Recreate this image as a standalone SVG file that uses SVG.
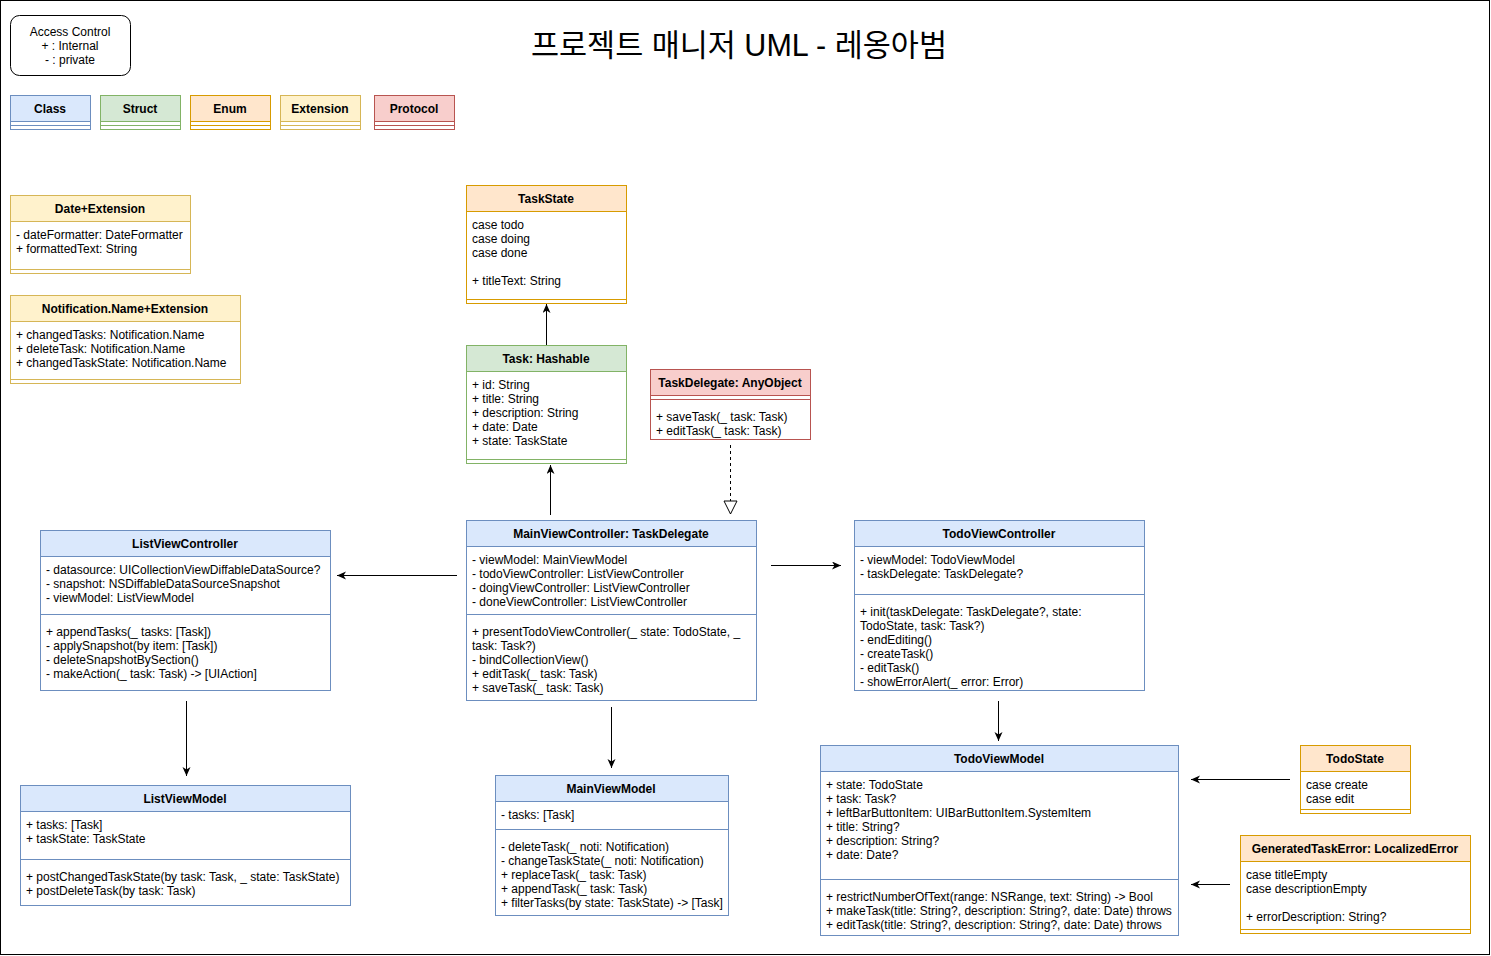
<svg xmlns="http://www.w3.org/2000/svg" width="1491" height="956" viewBox="0 0 1491 956">
<style>
text{font-family:"Liberation Sans",Arial,"Noto Sans CJK KR",sans-serif;font-size:12px;fill:#000}
.h{font-weight:bold;text-anchor:middle}
.c{text-anchor:middle}
.body{fill:#fff}
.blue rect,.blue line{stroke:#6c8ebf}.blue .hd{fill:#dae8fc}
.green rect,.green line{stroke:#82b366}.green .hd{fill:#d5e8d4}
.orange rect,.orange line{stroke:#d79b00}.orange .hd{fill:#ffe6cc}
.yellow rect,.yellow line{stroke:#d6b656}.yellow .hd{fill:#fff2cc}
.red rect,.red line{stroke:#b85450}.red .hd{fill:#f8cecc}
.conn line{stroke:#000;stroke-width:1;fill:none}
</style>
<defs>
<marker id="arr" markerWidth="10" markerHeight="10" refX="9" refY="4" orient="auto" markerUnits="userSpaceOnUse">
<path d="M0,0 L9,4 L0,8 L2.5,4 Z" fill="#000"/>
</marker>
<marker id="tri" markerWidth="16" markerHeight="16" refX="14" refY="7" orient="auto" markerUnits="userSpaceOnUse">
<path d="M1,0.5 L14,7 L1,13.5 Z" fill="#fff" stroke="#000"/>
</marker>
</defs>
<rect x="0.5" y="0.5" width="1489" height="954" fill="#fff" stroke="#000"/>

<text x="739" y="56" class="c" style="font-size:30.5px">프로젝트 매니저 UML - 레옹아범</text>

<g id="access-control">
<rect x="10.5" y="15.5" width="120" height="60" rx="9" fill="#fff" stroke="#000"/>
<text class="c" x="70" y="36">Access Control</text>
<text class="c" x="70" y="50">+ : Internal</text>
<text class="c" x="70" y="64">- : private</text>
</g>

<g id="legend-class" class="blue">
<rect class="body" x="10.5" y="95.5" width="80" height="34"/><rect class="hd" x="10.5" y="95.5" width="80" height="26"/><line x1="10.5" y1="125.5" x2="90.5" y2="125.5"/>
<text class="h" x="50" y="113">Class</text></g>
<g id="legend-struct" class="green">
<rect class="body" x="100.5" y="95.5" width="80" height="34"/><rect class="hd" x="100.5" y="95.5" width="80" height="26"/><line x1="100.5" y1="125.5" x2="180.5" y2="125.5"/>
<text class="h" x="140" y="113">Struct</text></g>
<g id="legend-enum" class="orange">
<rect class="body" x="190.5" y="95.5" width="80" height="34"/><rect class="hd" x="190.5" y="95.5" width="80" height="26"/><line x1="190.5" y1="125.5" x2="270.5" y2="125.5"/>
<text class="h" x="230" y="113">Enum</text></g>
<g id="legend-extension" class="yellow">
<rect class="body" x="280.5" y="95.5" width="80" height="34"/><rect class="hd" x="280.5" y="95.5" width="80" height="26"/><line x1="280.5" y1="125.5" x2="360.5" y2="125.5"/>
<text class="h" x="320" y="113">Extension</text></g>
<g id="legend-protocol" class="red">
<rect class="body" x="374.5" y="95.5" width="80" height="34"/><rect class="hd" x="374.5" y="95.5" width="80" height="26"/><line x1="374.5" y1="125.5" x2="454.5" y2="125.5"/>
<text class="h" x="414" y="113">Protocol</text></g>

<g id="date-extension" class="yellow">
<rect class="body" x="10.5" y="195.5" width="180" height="78"/><rect class="hd" x="10.5" y="195.5" width="180" height="26"/><line x1="10.5" y1="269.5" x2="190.5" y2="269.5"/>
<text class="h" x="100" y="213">Date+Extension</text>
<text x="16" y="239">- dateFormatter: DateFormatter</text>
<text x="16" y="253">+ formattedText: String</text>
</g>

<g id="notification-extension" class="yellow">
<rect class="body" x="10.5" y="295.5" width="230" height="88"/><rect class="hd" x="10.5" y="295.5" width="230" height="26"/><line x1="10.5" y1="379.5" x2="240.5" y2="379.5"/>
<text class="h" x="125" y="313">Notification.Name+Extension</text>
<text x="16" y="339">+ changedTasks: Notification.Name</text>
<text x="16" y="353">+ deleteTask: Notification.Name</text>
<text x="16" y="367">+ changedTaskState: Notification.Name</text>
</g>

<g id="taskstate" class="orange">
<rect class="body" x="466.5" y="185.5" width="160" height="118"/><rect class="hd" x="466.5" y="185.5" width="160" height="26"/><line x1="466.5" y1="299.5" x2="626.5" y2="299.5"/>
<text class="h" x="546" y="203">TaskState</text>
<text x="472" y="229">case todo</text>
<text x="472" y="243">case doing</text>
<text x="472" y="257">case done</text>
<text x="472" y="285">+ titleText: String</text>
</g>

<g id="task" class="green">
<rect class="body" x="466.5" y="345.5" width="160" height="118"/><rect class="hd" x="466.5" y="345.5" width="160" height="26"/><line x1="466.5" y1="459.5" x2="626.5" y2="459.5"/>
<text class="h" x="546" y="363">Task: Hashable</text>
<text x="472" y="389">+ id: String</text>
<text x="472" y="403">+ title: String</text>
<text x="472" y="417">+ description: String</text>
<text x="472" y="431">+ date: Date</text>
<text x="472" y="445">+ state: TaskState</text>
</g>

<g id="taskdelegate" class="red">
<rect class="body" x="650.5" y="369.5" width="160" height="70"/><rect class="hd" x="650.5" y="369.5" width="160" height="26"/><line x1="650.5" y1="399.5" x2="810.5" y2="399.5"/>
<text class="h" x="730" y="387">TaskDelegate: AnyObject</text>
<text x="656" y="421">+ saveTask(_ task: Task)</text>
<text x="656" y="435">+ editTask(_ task: Task)</text>
</g>

<g id="mainviewcontroller" class="blue">
<rect class="body" x="466.5" y="520.5" width="290" height="180"/><rect class="hd" x="466.5" y="520.5" width="290" height="26"/><line x1="466.5" y1="614.5" x2="756.5" y2="614.5"/>
<text class="h" x="611" y="538">MainViewController: TaskDelegate</text>
<text x="472" y="564">- viewModel: MainViewModel</text>
<text x="472" y="578">- todoViewController: ListViewController</text>
<text x="472" y="592">- doingViewController: ListViewController</text>
<text x="472" y="606">- doneViewController: ListViewController</text>
<text x="472" y="636">+ presentTodoViewController(_ state: TodoState, _</text>
<text x="472" y="650">task: Task?)</text>
<text x="472" y="664">- bindCollectionView()</text>
<text x="472" y="678">+ editTask(_ task: Task)</text>
<text x="472" y="692">+ saveTask(_ task: Task)</text>
</g>

<g id="listviewcontroller" class="blue">
<rect class="body" x="40.5" y="530.5" width="290" height="160"/><rect class="hd" x="40.5" y="530.5" width="290" height="26"/><line x1="40.5" y1="614.5" x2="330.5" y2="614.5"/>
<text class="h" x="185" y="548">ListViewController</text>
<text x="46" y="574">- datasource: UICollectionViewDiffableDataSource?</text>
<text x="46" y="588">- snapshot: NSDiffableDataSourceSnapshot</text>
<text x="46" y="602">- viewModel: ListViewModel</text>
<text x="46" y="636">+ appendTasks(_ tasks: [Task])</text>
<text x="46" y="650">- applySnapshot(by item: [Task])</text>
<text x="46" y="664">- deleteSnapshotBySection()</text>
<text x="46" y="678">- makeAction(_ task: Task) -&gt; [UIAction]</text>
</g>

<g id="todoviewcontroller" class="blue">
<rect class="body" x="854.5" y="520.5" width="290" height="170"/><rect class="hd" x="854.5" y="520.5" width="290" height="26"/><line x1="854.5" y1="594.5" x2="1144.5" y2="594.5"/>
<text class="h" x="999" y="538">TodoViewController</text>
<text x="860" y="564">- viewModel: TodoViewModel</text>
<text x="860" y="578">- taskDelegate: TaskDelegate?</text>
<text x="860" y="616">+ init(taskDelegate: TaskDelegate?, state:</text>
<text x="860" y="630">TodoState, task: Task?)</text>
<text x="860" y="644">- endEditing()</text>
<text x="860" y="658">- createTask()</text>
<text x="860" y="672">- editTask()</text>
<text x="860" y="686">- showErrorAlert(_ error: Error)</text>
</g>

<g id="listviewmodel" class="blue">
<rect class="body" x="20.5" y="785.5" width="330" height="120"/><rect class="hd" x="20.5" y="785.5" width="330" height="26"/><line x1="20.5" y1="859.5" x2="350.5" y2="859.5"/>
<text class="h" x="185" y="803">ListViewModel</text>
<text x="26" y="829">+ tasks: [Task]</text>
<text x="26" y="843">+ taskState: TaskState</text>
<text x="26" y="881">+ postChangedTaskState(by task: Task, _ state: TaskState)</text>
<text x="26" y="895">+ postDeleteTask(by task: Task)</text>
</g>

<g id="mainviewmodel" class="blue">
<rect class="body" x="495.5" y="775.5" width="233" height="140"/><rect class="hd" x="495.5" y="775.5" width="233" height="26"/><line x1="495.5" y1="829.5" x2="728.5" y2="829.5"/>
<text class="h" x="611" y="793">MainViewModel</text>
<text x="501" y="819">- tasks: [Task]</text>
<text x="501" y="851">- deleteTask(_ noti: Notification)</text>
<text x="501" y="865">- changeTaskState(_ noti: Notification)</text>
<text x="501" y="879">+ replaceTask(_ task: Task)</text>
<text x="501" y="893">+ appendTask(_ task: Task)</text>
<text x="501" y="907">+ filterTasks(by state: TaskState) -&gt; [Task]</text>
</g>

<g id="todoviewmodel" class="blue">
<rect class="body" x="820.5" y="745.5" width="358" height="190"/><rect class="hd" x="820.5" y="745.5" width="358" height="26"/><line x1="820.5" y1="879.5" x2="1178.5" y2="879.5"/>
<text class="h" x="999" y="763">TodoViewModel</text>
<text x="826" y="789">+ state: TodoState</text>
<text x="826" y="803">+ task: Task?</text>
<text x="826" y="817">+ leftBarButtonItem: UIBarButtonItem.SystemItem</text>
<text x="826" y="831">+ title: String?</text>
<text x="826" y="845">+ description: String?</text>
<text x="826" y="859">+ date: Date?</text>
<text x="826" y="901">+ restrictNumberOfText(range: NSRange, text: String) -&gt; Bool</text>
<text x="826" y="915">+ makeTask(title: String?, description: String?, date: Date) throws</text>
<text x="826" y="929">+ editTask(title: String?, description: String?, date: Date) throws</text>
</g>

<g id="todostate" class="orange">
<rect class="body" x="1300.5" y="745.5" width="110" height="68"/><rect class="hd" x="1300.5" y="745.5" width="110" height="26"/><line x1="1300.5" y1="809.5" x2="1410.5" y2="809.5"/>
<text class="h" x="1355" y="763">TodoState</text>
<text x="1306" y="789">case create</text>
<text x="1306" y="803">case edit</text>
</g>

<g id="generatedtaskerror" class="orange">
<rect class="body" x="1240.5" y="835.5" width="230" height="98"/><rect class="hd" x="1240.5" y="835.5" width="230" height="26"/><line x1="1240.5" y1="929.5" x2="1470.5" y2="929.5"/>
<text class="h" x="1355" y="853">GeneratedTaskError: LocalizedError</text>
<text x="1246" y="879">case titleEmpty</text>
<text x="1246" y="893">case descriptionEmpty</text>
<text x="1246" y="921">+ errorDescription: String?</text>
</g>

<g id="connectors" class="conn">
<line x1="546.5" y1="345" x2="546.5" y2="304" marker-end="url(#arr)"/>
<line x1="550.5" y1="515" x2="550.5" y2="465" marker-end="url(#arr)"/>
<line x1="730.5" y1="445" x2="730.5" y2="514" stroke-dasharray="3,3" marker-end="url(#tri)"/>
<line x1="457" y1="575.5" x2="337" y2="575.5" marker-end="url(#arr)"/>
<line x1="771" y1="565.5" x2="841" y2="565.5" marker-end="url(#arr)"/>
<line x1="186.5" y1="701" x2="186.5" y2="776" marker-end="url(#arr)"/>
<line x1="611.5" y1="707" x2="611.5" y2="768" marker-end="url(#arr)"/>
<line x1="998.5" y1="701" x2="998.5" y2="741" marker-end="url(#arr)"/>
<line x1="1290" y1="779.5" x2="1191" y2="779.5" marker-end="url(#arr)"/>
<line x1="1230" y1="884.5" x2="1191" y2="884.5" marker-end="url(#arr)"/>
</g>
</svg>
